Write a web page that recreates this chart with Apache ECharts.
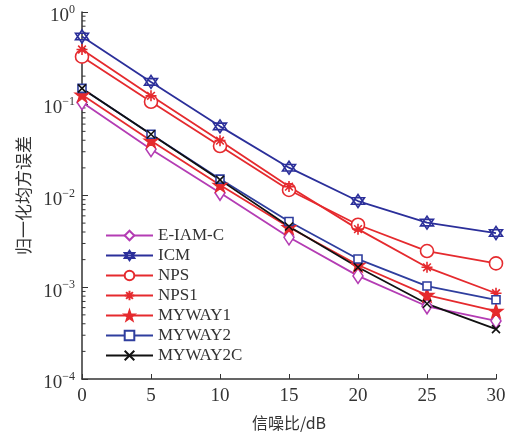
<!DOCTYPE html>
<html>
<head>
<meta charset="utf-8">
<script src="https://cdn.jsdelivr.net/npm/echarts@6/dist/echarts.min.js"></script>
<style>
  html, body { margin: 0; padding: 0; background: #fff; }
</style>
</head>
<body>
<div id="chart" style="width: 521px; height: 432px;"></div>
<script>
// 横轴: 信噪比 (dB)
const snr = [0, 5, 10, 15, 20, 25, 30];

// 各算法的归一化均方误差
const eIamC  = [0.104, 0.032, 0.0107, 0.0035, 0.00133, 0.00062, 0.00043];
const icm    = [0.54, 0.173, 0.0567, 0.0201, 0.0087, 0.00506, 0.0039];
const nps    = [0.326, 0.105, 0.0346, 0.0115, 0.0048, 0.00248, 0.00182];
const nps1   = [0.39, 0.122, 0.0396, 0.0125, 0.0043, 0.00165, 0.00086];
const myway1 = [0.125, 0.0396, 0.013, 0.0045, 0.00175, 0.00082, 0.00055];
const myway2 = [0.147, 0.0465, 0.0151, 0.0052, 0.00203, 0.00103, 0.00073];
const myway2c = [0.147, 0.0465, 0.0148, 0.0046, 0.00165, 0.00066, 0.00035];

const seriesNames = ['E-IAM-C', 'ICM', 'NPS', 'NPS1', 'MYWAY1', 'MYWAY2', 'MYWAY2C'];

// 符号形状
const hexagram = 'path://M0,-10 L8.66,5 L-8.66,5 Z M0,10 L8.66,-5 L-8.66,-5 Z';
const asterisk = 'path://M0,-5 L0,5 M-5,0 L5,0 M-3.5,-3.5 L3.5,3.5 M-3.5,3.5 L3.5,-3.5';
const pentagram = 'path://M0,-10 L2.35,-3.24 L9.51,-3.09 L3.8,1.24 L5.88,8.09 L0,4 L-5.88,8.09 L-3.8,1.24 L-9.51,-3.09 L-2.35,-3.24 Z';
const cross = 'path://M-5,-5 L5,5 M-5,5 L5,-5';

const chart = echarts.init(document.getElementById('chart'), null, { renderer: 'canvas' });

function makeSeries(name, values, color, symbol, size, fill) {
  return {
    name: name,
    type: 'line',
    data: snr.map((x, i) => [x, values[i]]),
    symbol: symbol,
    symbolSize: size,
    showAllSymbol: true,
    lineStyle: { color: color, width: 1.8 },
    itemStyle: { color: fill, borderColor: color, borderWidth: 1.6 },
    emphasis: { disabled: true },
    animation: false
  };
}

const serifFont = '"Liberation Serif", "DejaVu Serif", serif';
const cjkFont = '"Noto Sans CJK SC", sans-serif';

const option = {
  backgroundColor: '#fff',
  animation: false,
  grid: { left: 82, right: 25, top: 12, bottom: 53, outerBoundsMode: 'none', containLabel: false },
  legend: {
    data: seriesNames,
    orient: 'vertical',
    left: 100,
    top: 222,
    itemWidth: 47,
    itemHeight: 12,
    itemGap: 3,
    textStyle: { fontFamily: serifFont, fontSize: 17, color: '#333', lineHeight: 17 }
  },
  xAxis: {
    type: 'value',
    min: 0,
    max: 30,
    interval: 5,
    name: '信噪比/dB',
    nameLocation: 'middle',
    nameGap: 36,
    nameTextStyle: { fontFamily: cjkFont, fontSize: 16, color: '#333' },
    axisLine: { lineStyle: { color: '#333', width: 1.5 } },
    axisTick: { inside: true, length: 5, lineStyle: { color: '#333' } },
    axisLabel: { fontFamily: serifFont, fontSize: 19, color: '#333', margin: 8 },
    splitLine: { show: false }
  },
  yAxis: {
    type: 'log',
    logBase: 10,
    min: 1e-4,
    max: 1,
    name: '归一化均方误差',
    nameLocation: 'middle',
    nameGap: 50,
    nameRotate: 90,
    nameTextStyle: { fontFamily: cjkFont, fontSize: 17, color: '#333' },
    axisLine: { show: true, lineStyle: { color: '#333', width: 1.5 } },
    axisTick: { inside: true, length: 6, lineStyle: { color: '#333' } },
    axisLabel: {
      margin: 7,
      color: '#333',
      padding: [6, 0, 0, 0],
      formatter: function (v) {
        const e = Math.round(Math.log10(v));
        return '{b|10}{s|' + (e < 0 ? '\u2212' + (-e) : e) + '}';
      },
      rich: {
        b: { fontFamily: serifFont, fontSize: 19, color: '#333', lineHeight: 22, verticalAlign: 'bottom' },
        s: { fontFamily: serifFont, fontSize: 12, color: '#333', lineHeight: 22, verticalAlign: 'top' }
      }
    },
    splitLine: { show: false }
  },
  series: [
    makeSeries('E-IAM-C', eIamC, '#b43cb4', 'diamond', [10, 15], '#fff'),
    makeSeries('ICM', icm, '#2b2f9a', hexagram, 13, '#fff'),
    makeSeries('NPS', nps, '#e52a2e', 'circle', 13, '#fff'),
    makeSeries('NPS1', nps1, '#e52a2e', asterisk, 11, '#e52a2e'),
    makeSeries('MYWAY1', myway1, '#e52a2e', pentagram, 13, '#e52a2e'),
    makeSeries('MYWAY2', myway2, '#2f3e9e', 'rect', 8, '#fff'),
    makeSeries('MYWAY2C', myway2c, '#111', cross, 8, '#111')
  ]
};

chart.setOption(option);

// 对数轴的次刻度 (2..9 × 10^k)
const minorTicks = [];
const x0 = chart.convertToPixel({ xAxisIndex: 0 }, 0);
for (let k = -4; k < 0; k++) {
  for (let m = 2; m <= 9; m++) {
    const y = chart.convertToPixel({ yAxisIndex: 0 }, m * Math.pow(10, k));
    minorTicks.push({
      type: 'line',
      shape: { x1: x0, y1: y, x2: x0 + 3.5, y2: y },
      style: { stroke: '#333', lineWidth: 1 },
      silent: true
    });
  }
}
chart.setOption({ graphic: minorTicks });
</script>
</body>
</html>
